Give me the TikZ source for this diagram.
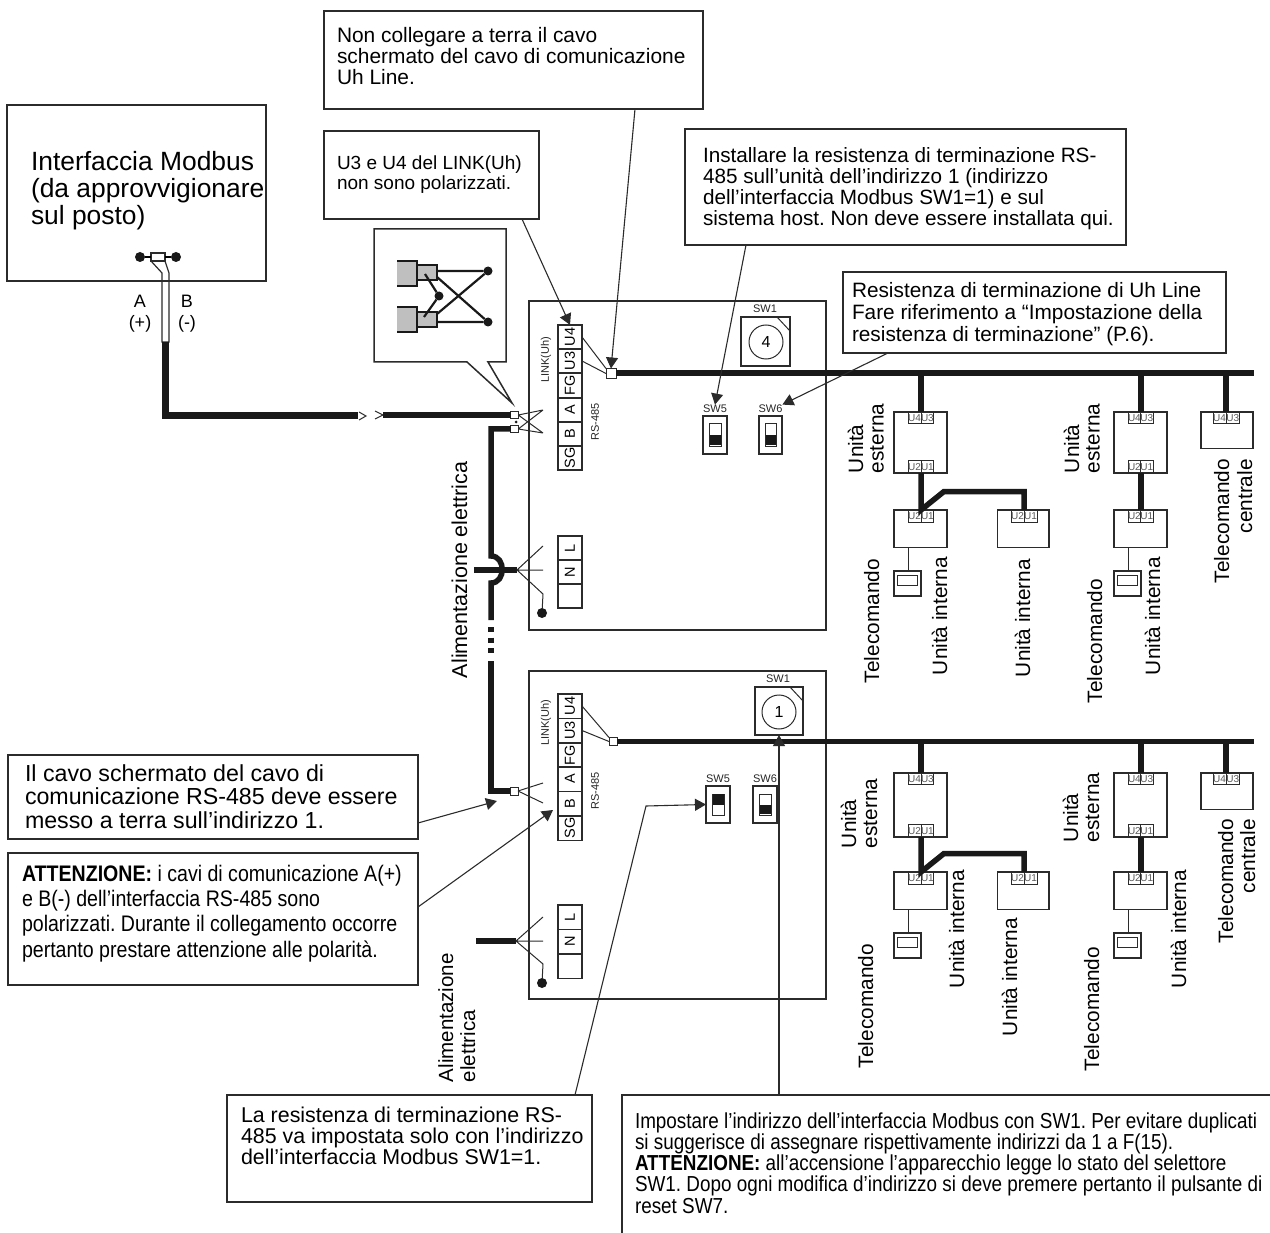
\documentclass[tikz,border=0pt]{standalone}
\usepackage{fontspec}
\setmainfont{Liberation Sans}
\newfontfamily\narrowf[FakeStretch=0.87]{Liberation Sans}
\newfontfamily\normf{Liberation Sans}
\usetikzlibrary{arrows.meta,calc}
\definecolor{ink}{HTML}{2B2B2B}
\tikzset{
  txt/.style={inner sep=0pt,outer sep=0pt,text=black},
  plain/.style={draw=ink,line width=1.3pt,inner sep=0pt,outer sep=0pt},
  callbox/.style={plain,line width=1.5pt},
  board/.style={plain,line width=2pt},
  thin/.style={draw=ink,line width=1pt,inner sep=0pt,outer sep=0pt},
  term/.style={draw=ink,line width=1pt,inner sep=0pt,outer sep=0pt,text=black!65,font=\fontsize{10pt}{10pt}\selectfont},
  bigcell/.style={draw=ink,line width=1.4pt,inner sep=0pt,outer sep=0pt,rotate=90,font=\fontsize{14.5pt}{14.5pt}\selectfont,text=black},
  callout/.style={draw=ink,line width=1.1pt,-{Triangle[length=11pt,width=12pt]}},
  bus/.style={draw=black!90,line width=5.5pt,line join=miter},
  sq/.style={draw=ink,fill=white,line width=1pt,inner sep=0pt,outer sep=0pt},
  blob/.style={circle,fill=black!90,inner sep=0pt,outer sep=0pt},
  small/.style={txt,font=\fontsize{11pt}{11pt}\selectfont,text=black!85},
}
% named rectangle with optional contents
\newcommand{\nbox}[7][plain]{%
  \pgfmathsetlengthmacro\rw{(#5-#3)*1pt}\pgfmathsetlengthmacro\rh{(#6-#4)*1pt}%
  \node[#1,anchor=north west,minimum width=\rw,minimum height=\rh] (#2) at (#3,#4) {#7};%
}
% text: font, name, x, first baseline, size, leading, text
\newcommand{\tl}[7]{%
  \pgfmathsetmacro\tpos{#4-0.8*#5}%
  \node[txt,align=left,font=#1\fontsize{#5pt}{#6pt}\selectfont\frenchspacing,anchor=north west] (#2) at (#3,\tpos) {\rule{0pt}{\dimexpr #5pt*8/10\relax}#7};%
}
% rotated text: align, name, baseline x, bottom y, size, leading, text
\newcommand{\rl}[7][left]{%
  \pgfmathsetmacro\tpos{#3-0.8*#5}%
  \node[txt,rotate=90,align=#1,font=\fontsize{#5pt}{#6pt}\selectfont,anchor=north west] (#2) at (\tpos,#4) {\rule{0pt}{\dimexpr #5pt*8/10\relax}#7};%
}
% terminal pair: name-prefix, x1, xm, x2, y1, y2, labels
\newcommand{\tpair}[8]{%
  \nbox[term]{#1a}{#2}{#5}{#3}{#6}{#7}%
  \nbox[term]{#1b}{#3}{#5}{#4}{#6}{#8}%
}
% remote/indoor/outdoor group
\newcommand{\group}[4]{%
  \pgfmathsetmacro\oT{#2}\pgfmathsetmacro\oB{#3}\pgfmathsetmacro\iT{#4}%
  \pgfmathsetmacro\oTt{\oT+11.5}\pgfmathsetmacro\oBt{\oB-12.5}%
  \pgfmathsetmacro\iB{\iT+37.5}\pgfmathsetmacro\iTt{\iT+12.5}%
  \pgfmathsetmacro\rT{\iT+61}\pgfmathsetmacro\rB{\iT+86}%
  \pgfmathsetmacro\qT{\iT+65}\pgfmathsetmacro\qB{\iT+75.5}%
  \pgfmathsetmacro\brY{\iT-18.5}\pgfmathsetmacro\cB{\oT+36.5}%
  % outdoor 1
  \nbox{o1#1}{894}{\oT}{947}{\oB}{}%
  \tpair{o1t#1}{908}{921}{933.5}{\oT}{\oTt}{U4}{U3}%
  \tpair{o1b#1}{908}{921}{933.5}{\oBt}{\oB}{U2}{U1}%
  % indoor 1 + remote
  \nbox{i1#1}{894}{\iT}{947}{\iB}{}%
  \tpair{i1t#1}{908}{921}{933.5}{\iT}{\iTt}{U2}{U1}%
  \nbox{r1#1}{894}{\rT}{921}{\rB}{}%
  \nbox[thin]{r1s#1}{897}{\qT}{917}{\qB}{}%
  \draw[thin] (r1#1.north -| i1t#1a.south west) -- (i1t#1a.south west |- i1#1.south);%
  % indoor 2
  \nbox{i2#1}{997.5}{\iT}{1049}{\iB}{}%
  \tpair{i2t#1}{1011}{1024}{1037}{\iT}{\iTt}{U2}{U1}%
  % outdoor 2
  \nbox{o2#1}{1114}{\oT}{1167}{\oB}{}%
  \tpair{o2t#1}{1128}{1140}{1153.5}{\oT}{\oTt}{U4}{U3}%
  \tpair{o2b#1}{1128}{1140}{1153.5}{\oBt}{\oB}{U2}{U1}%
  % indoor 3 + remote
  \nbox{i3#1}{1114}{\iT}{1167}{\iB}{}%
  \tpair{i3t#1}{1128}{1140}{1153.5}{\iT}{\iTt}{U2}{U1}%
  \nbox{r3#1}{1114}{\rT}{1141}{\rB}{}%
  \nbox[thin]{r3s#1}{1117}{\qT}{1137}{\qB}{}%
  \draw[thin] (r3#1.north -| i3t#1a.south west) -- (i3t#1a.south west |- i3#1.south);%
  % central
  \nbox{c#1}{1201}{\oT}{1253}{\cB}{}%
  \tpair{ct#1}{1213}{1226}{1239.5}{\oT}{\oTt}{U4}{U3}%
  % wiring
  \coordinate (bend1#1) at (944,\brY);\coordinate (bend2#1) at (1024,\brY);%
  \draw[bus] (o1t#1a.north east) -- (o1t#1a.north east |- bus#1);%
  \draw[bus] (o2t#1a.north east) -- (o2t#1a.north east |- bus#1);%
  \draw[bus] (ct#1a.north east) -- (ct#1a.north east |- bus#1);%
  \draw[bus] (o1b#1a.south east) -- (i1t#1a.north east) -- (bend1#1) -- (bend2#1) -- (i2t#1a.north east);%
  \draw[bus] (o2b#1a.south east) -- (i3t#1a.north east);%
}
% SW: name, x1, x2, y1, y2, black half upper(1)/lower(0)
\newcommand{\swbox}[6]{%
  \nbox{#1}{#2}{#4}{#3}{#5}{}%
  \pgfmathsetmacro\ax{#2+6.5}\pgfmathsetmacro\bx{#3-6}\pgfmathsetmacro\ay{#4+8}\pgfmathsetmacro\by{#5-7.5}\pgfmathsetmacro\my{(\ay+\by)/2}%
  \nbox[thin]{#1i}{\ax}{\ay}{\bx}{\by}{}%
  \ifnum#6=1 \fill[black!90] (\ax,\ay) rectangle (\bx,\my); \else \fill[black!90] (\ax,\my) rectangle (\bx,\by-1.5); \fi
}
\begin{document}
\begin{tikzpicture}[x=1pt,y=-1pt]
\useasboundingbox (0,0) rectangle (1270,1233);
% ---------- Modbus interface
\nbox[callbox]{mb}{7}{105}{266}{281}{}
\tl{\normf}{mbt}{31}{171}{26.4}{27}{Interfaccia Modbus\\(da approvvigionare\\sul posto)}
\nbox[sq,line width=1.3pt]{conn}{151}{253}{165}{261}{}
\node[blob,minimum size=10pt] (dl) at (140,257) {};
\node[blob,minimum size=10pt] (dr) at (176,257) {};
\draw[line width=1.5pt,black] (dl) -- (conn) (conn) -- (dr);
\coordinate (wl) at (162,273);\coordinate (wr) at (169,273);
\coordinate (cl) at (162,342);\coordinate (cr) at (169,342);
\coordinate (cm) at (165.5,342);
\coordinate (cc) at (165.5,416);
\coordinate (cbr1) at (358,416);
\coordinate (cbr2) at (383,415);
\draw[thin,line width=1.2pt] (conn.south west) -- (wl) -- (cl) -- (cr) -- (wr) -- (conn.south east);
\draw[bus,line width=7pt] (cm) -- (cc) -- (cbr1);
\draw[thin] ($(cbr1)+(1,-4)$) -- ($(cbr1)+(8,0)$) -- ($(cbr1)+(1,4)$);
\draw[thin] ($(cbr2)+(-8,-4)$) -- (cbr2) -- ($(cbr2)+(-8,4)$);
\node[txt,align=center,font=\fontsize{18pt}{21pt}\selectfont] (la) at (140,314) {A\\(+)};
\node[txt,align=center,font=\fontsize{18pt}{21pt}\selectfont] (lb) at (187,314) {B\\(-)};
% ---------- boards
\nbox[board]{bu}{529}{301}{825.5}{630}{}
\nbox[board]{bl}{529}{671}{825.5}{999}{}
% terminal strips upper
\foreach \n/\y/\t in {U4/337/U4,U3/361/U3,FG/385.5/FG,A/410/A,B/434/B,SG/458/SG}
  {\node[bigcell,minimum width=24.2pt,minimum height=24pt] (ua\n) at (570,\y) {\t};}
\foreach \n/\y/\t in {L/548/L,N/572/N,X/596/{}}
  {\node[bigcell,minimum width=24pt,minimum height=24pt] (up\n) at (570,\y) {\t};}
% terminal strips lower
\foreach \n/\y/\t in {U4/706/U4,U3/730.5/U3,FG/755/FG,A/779/A,B/803.5/B,SG/828/SG}
  {\node[bigcell,minimum width=24.4pt,minimum height=24pt] (lt\n) at (570,\y) {\t};}
\foreach \n/\y/\t in {L/917/L,N/941.5/N,X/966/{}}
  {\node[bigcell,minimum width=24.4pt,minimum height=24pt] (lp\n) at (570,\y) {\t};}
\node[small,rotate=90] (lkA) at (546,360) {LINK(Uh)};
\node[small,rotate=90] (rsA) at (595,422) {RS-485};
\node[small,rotate=90] (lkB) at (546,723) {LINK(Uh)};
\node[small,rotate=90] (rsB) at (595,791) {RS-485};
% ---------- SW1
\nbox[plain]{swA}{741}{317}{790}{366}{}
\node[draw=ink,circle,line width=1pt,minimum size=34pt,inner sep=0pt,font=\fontsize{16pt}{16pt}\selectfont] (dialA) at (766,342) {4};
\coordinate (diagA1) at (777,317);\coordinate (diagA2) at (790,331);
\draw[thin] (diagA1) -- (diagA2);
\node[small] (swAl) at (765,309) {SW1};
\nbox[plain]{swB}{755}{687}{803}{735}{}
\node[draw=ink,circle,line width=1pt,minimum size=34pt,inner sep=0pt,font=\fontsize{16pt}{16pt}\selectfont] (dialB) at (779,712) {1};
\coordinate (diagB1) at (790,687);\coordinate (diagB2) at (803,701);
\draw[thin] (diagB1) -- (diagB2);
\node[small] (swBl) at (778,679) {SW1};
% ---------- SW5/SW6
\swbox{s5A}{703}{727}{416}{454}{0}
\swbox{s6A}{759}{782}{416}{454}{0}
\node[small] (s5Al) at (715,408.5) {SW5};
\node[small] (s6Al) at (770.5,408.5) {SW6};
\swbox{s5B}{706}{730}{786}{823}{1}
\swbox{s6B}{753}{777}{786}{823}{0}
\node[small] (s5Bl) at (718,779) {SW5};
\node[small] (s6Bl) at (765,779) {SW6};
% ---------- LINK wires upper
\node[sq,minimum size=10pt] (busA) at (611,373.5) {};
\coordinate (busAe) at (1254,373.5);
\draw[bus,line width=6pt] (busA.east) -- (busAe);
\draw[thin] (uaU4.south) -- (busA.north west);
\draw[thin] (uaU3.south) -- (busA.west);
% ---------- LINK wires lower
\node[sq,minimum size=8pt] (busB) at (613,741.5) {};
\coordinate (busBe) at (1254,741.5);
\draw[bus] (busB.east) -- (busBe);
\draw[thin] (ltU4.south) -- (busB.north west);
\draw[thin] (ltU3.south) -- (busB.west);
% ---------- RS-485 squares upper
\node[sq,minimum size=7.5pt] (s1) at (514.5,415) {};
\node[sq,minimum size=7.5pt] (s2) at (514.5,429) {};
\coordinate (f1) at (543,410);\coordinate (f2) at (543,433);
\draw[thin] (s1.east) -- (f1) (s1.east) -- (f2) (s2.east) -- (f1) (s2.east) -- (f2);
\node[blob,minimum size=3pt] (sd) at (516,422) {};
\draw[bus,line width=6pt] (cbr2) -- (s1.west);
% power / RS chain
\coordinate (v1) at (491,429);\coordinate (v2) at (491,556);\coordinate (v3) at (491,583);
\coordinate (v4) at (491,620);\coordinate (v5) at (491,627);\coordinate (v6) at (491,653);
\coordinate (v7) at (491,661);\coordinate (v8) at (491,791);
\draw[bus] (s2.west) -- (v1) -- (v2) .. controls (506,556) and (506,583) .. (v3) -- (v4);
\draw[bus,dash pattern=on 5pt off 5.5pt] (v5) -- (v6);
\node[sq,minimum size=8pt] (s3) at (514,791) {};
\draw[bus] (v7) -- (v8) -- (s3.west);
\coordinate (f3) at (543,783);\coordinate (f4) at (543,803);
\draw[thin] (s3.east) -- (f3) (s3.east) -- (f4);
% power upper
\coordinate (pa0) at (474,570);\coordinate (pa) at (517,570);
\draw[bus] (pa0) -- (pa);
\coordinate (pa1) at (543,546);\coordinate (pa2) at (543,570);\coordinate (pa3) at (543,594);
\node[blob,minimum size=10pt] (pad) at (542,613) {};
\draw[thin] (pa) -- (pa1) (pa) -- (pa2) (pa) -- (pa3) -- (pad);
% power lower
\coordinate (pb0) at (476,941);\coordinate (pb) at (516,941);
\draw[bus] (pb0) -- (pb);
\coordinate (pb1) at (543,917);\coordinate (pb2) at (543,941);\coordinate (pb3) at (543,964);
\node[blob,minimum size=10pt] (pbd) at (542,983) {};
\draw[thin] (pb) -- (pb1) (pb) -- (pb2) (pb) -- (pb3) -- (pbd);
% ---------- speech bubble
\coordinate (bt) at (512,403);
\draw[plain,line width=1.5pt,fill=white,line join=miter] (374,229) -- (506,229) -- (506,362) -- (488,362) -- (bt) -- (467,362) -- (374,362) -- cycle;
\fill[black!25] (397,261) rectangle (417,286) (397,307) rectangle (417,332);
\fill[black!25] (417,265) rectangle (437,280) (417,312) rectangle (437,327);
\draw[line width=2pt,black!90] (397,261) -- (417,261) -- (417,286) -- (397,286);
\draw[line width=2pt,black!90] (397,307) -- (417,307) -- (417,332) -- (397,332);
\draw[line width=2pt,black!90] (417,265) rectangle (437,280);
\draw[line width=2pt,black!90] (417,312) rectangle (437,327);
\node[blob,minimum size=9pt] (bd1) at (488,271) {};
\node[blob,minimum size=9pt] (bd2) at (488,322) {};
\node[blob,minimum size=9pt] (bd3) at (439,296) {};
\draw[line width=2.2pt,black!90] (437,271) -- (bd1) (437,322) -- (bd2) (437,277) -- (bd2) (437,314) -- (bd1) (425,274) -- (bd3) (424,317) -- (bd3);
% ---------- outdoor/indoor groups
\group{A}{412}{473}{510}
\group{B}{773}{837}{872}
% device texts upper
\rl{tA1}{863}{473}{20.8}{20.5}{Unità\\esterna}
\rl{tA2}{879}{683}{20.8}{21}{Telecomando}
\rl{tA3}{947}{675}{20.8}{21}{Unità interna}
\rl{tA4}{1030}{677}{20.8}{21}{Unità interna}
\rl{tA5}{1079}{473}{20.8}{20.5}{Unità\\esterna}
\rl{tA6}{1102}{703}{20.8}{21}{Telecomando}
\rl{tA7}{1160}{675}{20.8}{21}{Unità interna}
\rl[right]{tA8}{1229}{583}{20.8}{23}{Telecomando\\centrale}
% device texts lower
\rl{tB1}{856}{848}{20.8}{21}{Unità\\esterna}
\rl{tB2}{873}{1068}{20.8}{21}{Telecomando}
\rl{tB3}{964}{988}{20.8}{21}{Unità interna}
\rl{tB4}{1017}{1036}{20.8}{21}{Unità interna}
\rl{tB5}{1078}{842}{20.8}{21}{Unità\\esterna}
\rl{tB6}{1099}{1071}{20.8}{21}{Telecomando}
\rl{tB7}{1186}{988}{20.8}{21}{Unità interna}
\rl[right]{tB8}{1233}{943}{20.8}{22}{Telecomando\\centrale}
\rl{tP1}{467}{678}{21.5}{22}{Alimentazione elettrica}
\rl{tP2}{453}{1082}{20.5}{22}{Alimentazione\\elettrica}
% ---------- callouts
\nbox[callbox]{c1}{324}{11}{703}{109}{}
\tl{\normf}{c1t}{337}{43}{20.9}{20.8}{Non collegare a terra il cavo\\schermato del cavo di comunicazione\\Uh Line.}
\coordinate (c1s) at (635,109);
\draw[callout] (c1s) -- (busA.north);
\nbox[callbox]{c2}{324}{131}{539}{219}{}
\tl{\normf}{c2t}{337}{170}{19}{20}{U3 e U4 del LINK(Uh)\\non sono polarizzati.}
\coordinate (c2s) at (522,219);
\draw[callout] (c2s) -- (uaU4.east);
\nbox[callbox]{c3}{685}{129}{1126}{245}{}
\tl{\normf}{c3t}{703}{163}{20.7}{21}{Installare la resistenza di terminazione RS-\\485 sull’unità dell’indirizzo 1 (indirizzo\\dell’interfaccia Modbus SW1=1) e sul\\sistema host. Non deve essere installata qui.}
\coordinate (c3s) at (746,245);
\draw[callout] (c3s) -- (s5Al.north);
\nbox[callbox]{c4}{843}{272}{1226}{353}{}
\tl{\normf}{c4t}{852}{298}{20.8}{22}{Resistenza di terminazione di Uh Line\\Fare riferimento a “Impostazione della\\resistenza di terminazione” (P.6).}
\coordinate (c4s) at (888,353);
\draw[callout] (c4s) -- (s6Al.north east);
\nbox[callbox]{c5}{8}{755}{418}{839}{}
\tl{\normf}{c5t}{25}{781}{23.2}{23.6}{Il cavo schermato del cavo di\\comunicazione RS-485 deve essere\\messo a terra sull’indirizzo 1.}
\coordinate (c5s) at (418,823);\coordinate (c5e) at (497,801);
\draw[callout] (c5s) -- (c5e);
\nbox[callbox]{c6}{8}{853}{418}{985}{}
\tl{\narrowf}{c6t}{22}{881}{22.5}{25.4}{\textbf{ATTENZIONE:} i cavi di comunicazione A(+)\\e B(-) dell’interfaccia RS-485 sono\\polarizzati. Durante il collegamento occorre\\pertanto prestare attenzione alle polarità.}
\coordinate (c6s) at (418,907);\coordinate (c6e) at (553,810);
\draw[callout] (c6s) -- (c6e);
\nbox[callbox]{c7}{227}{1095}{592}{1202}{}
\tl{\normf}{c7t}{241}{1122}{21.4}{21}{La resistenza di terminazione RS-\\485 va impostata solo con l’indirizzo\\dell’interfaccia Modbus SW1=1.}
\coordinate (c7s) at (575,1095);\coordinate (c7b) at (646,806);
\draw[callout] (c7s) -- (c7b) -- (s5B.west);
% right open callout
\coordinate (c8a) at (622,1233);\coordinate (c8b) at (622,1095);\coordinate (c8c) at (1270,1095);
\draw[plain,line width=1.5pt] (c8a) -- (c8b) -- (c8c);
\tl{\narrowf}{c8t}{635}{1128}{21.7}{21.3}{Impostare l’indirizzo dell’interfaccia Modbus con SW1. Per evitare duplicati\\si suggerisce di assegnare rispettivamente indirizzi da 1 a F(15).\\\textbf{ATTENZIONE:} all’accensione l’apparecchio legge lo stato del selettore\\SW1. Dopo ogni modifica d’indirizzo si deve premere pertanto il pulsante di\\reset SW7.}
\coordinate (c8s) at (779,1095);
\draw[callout] (c8s) -- (swB.south -| dialB);
\end{tikzpicture}
\end{document}
